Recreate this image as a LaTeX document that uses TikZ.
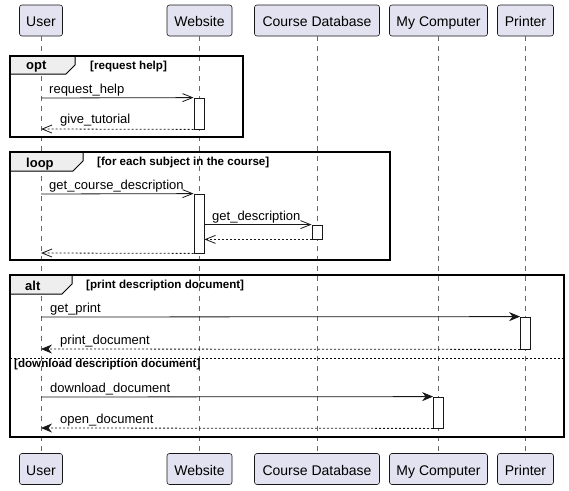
\documentclass[tikz,border=0pt]{standalone}
\usepackage{fontspec}
\setmainfont{Liberation Sans}
\usetikzlibrary{arrows.meta}
\definecolor{partfill}{HTML}{E2E2F0}
\definecolor{ln}{HTML}{181818}
\definecolor{tabfill}{HTML}{EEEEEE}
\begin{document}
\begin{tikzpicture}[x=1pt,y=-1pt,
  part/.style={draw=ln, fill=partfill, rounded corners=2.5pt, minimum height=31pt, inner sep=0pt, text height=12.5pt, text depth=0pt, font=\fontsize{14}{16}\selectfont, line width=0.6pt},
  life/.style={draw=ln!65, dash pattern=on 5pt off 5pt, line width=0.6pt},
  actbox/.style={draw=ln, fill=white, minimum width=10pt, inner sep=0pt, line width=0.8pt},
  msgopen/.style={draw=ln, line width=0.8pt, -{Straight Barb[length=10pt,width=8pt,line width=0.8pt]}},
  msgfill/.style={draw=ln, line width=0.8pt, -{Stealth[length=11pt,width=9pt,inset=3.5pt]}},
  ret/.style={dash pattern=on 2pt off 2pt},
  lbl/.style={anchor=base west, inner sep=0pt, font=\fontsize{13}{15}\selectfont},
  frm/.style={draw=black, line width=1.4pt},
  tabshape/.style={draw=black, fill=tabfill, line width=1pt},
  fkw/.style={anchor=base west, inner sep=0pt, font=\bfseries\fontsize{13}{15}\selectfont},
  fguard/.style={anchor=base west, inner sep=0pt, font=\bfseries\fontsize{11.6}{13}\selectfont},
]
\useasboundingbox[fill=white] (0,0) rectangle (569,490);

% participants
\node[part, minimum width=43pt]  (userT) at (41,20.5) {User};
\node[part, minimum width=65pt]  (webT)  at (199.5,20.5) {Website};
\node[part, minimum width=125pt] (dbT)   at (317,20.5) {Course Database};
\node[part, minimum width=98pt]  (pcT)   at (438.5,20.5) {My Computer};
\node[part, minimum width=56pt]  (prT)   at (525.5,20.5) {Printer};
\node[part, minimum width=43pt]  (userB) at (41,469) {User};
\node[part, minimum width=65pt]  (webB)  at (199.5,469) {Website};
\node[part, minimum width=125pt] (dbB)   at (317,469) {Course Database};
\node[part, minimum width=98pt]  (pcB)   at (438.5,469) {My Computer};
\node[part, minimum width=56pt]  (prB)   at (525.5,469) {Printer};

% lifelines
\draw[life] (userT) -- (userB);
\draw[life] (webT) -- (webB);
\draw[life] (dbT) -- (dbB);
\draw[life] (pcT) -- (pcB);
\draw[life] (prT) -- (prB);

% opt frame
\draw[tabshape] (10,56) -- (75,56) -- (75,65) -- (66,74) -- (10,74) -- cycle;
\draw[frm] (10,56) rectangle (243,137);
\node[fkw] (optkw) at (26,69.5) {opt};
\node[fguard] (optg) at (90,69) {[request help]};

% loop frame
\draw[tabshape] (10,152) -- (83,152) -- (83,161) -- (73,171) -- (10,171) -- cycle;
\draw[frm] (10,152) rectangle (390,260);
\node[fkw] (loopkw) at (26,167) {loop};
\node[fguard] (loopg) at (97,165) {[for each subject in the course]};

% alt frame
\draw[tabshape] (10,275) -- (72,275) -- (72,284) -- (62,294) -- (10,294) -- cycle;
\draw[frm] (10,275) rectangle (564,437);
\node[fkw] (altkw) at (25,290) {alt};
\node[fguard] (altg1) at (86,288) {[print description document]};
\draw[draw=black, line width=0.8pt, dash pattern=on 2pt off 2pt] (10,358) -- (564,358);
\node[fguard] (altg2) at (14,367) {[download description document]};

% activations
\node[actbox, minimum height=31pt] (a1) at (199,113.5) {};
\node[actbox, minimum height=59pt] (a2) at (199,223.5) {};
\node[actbox, minimum height=14pt] (a3) at (317,232) {};
\node[actbox, minimum height=32pt] (a4) at (525.5,333) {};
\node[actbox, minimum height=31pt] (a5) at (438.5,412.5) {};

% coordinates on User lifeline
\coordinate (u1) at (41,98);
\coordinate (u2) at (41,129);
\coordinate (u3) at (41,194);
\coordinate (u4) at (41,253);
\coordinate (u5) at (41,317);
\coordinate (u6) at (41,349);
\coordinate (u7) at (41,397);
\coordinate (u8) at (41,428);

% messages
\draw[msgopen] (u1) -- (a1.north west);
\node[lbl] (l1) at (49,93) {request\_help};
\draw[msgopen, ret] (a1.south west) -- (u2);
\node[lbl] (l2) at (60,123.5) {give\_tutorial};

\draw[msgopen] (u3) -- (a2.north west);
\node[lbl] (l3) at (49,189) {get\_course\_description};
\draw[msgopen] (a2.east |- a3.north) -- (a3.north west);
\node[lbl] (l4) at (212,220) {get\_description};
\draw[msgopen, ret] (a3.south west) -- (a2.east |- a3.south);
\draw[msgopen, ret] (a2.south west) -- (u4);

\draw[msgfill] (u5) -- (a4.north west);
\node[lbl] (l5) at (50,312) {get\_print};
\draw[msgfill, ret] (a4.south west) -- (u6);
\node[lbl] (l6) at (60,344) {print\_document};

\draw[msgfill] (u7) -- (a5.north west);
\node[lbl] (l7) at (50,392) {download\_document};
\draw[msgfill, ret] (a5.south west) -- (u8);
\node[lbl] (l8) at (60,423) {open\_document};
\end{tikzpicture}
\end{document}
